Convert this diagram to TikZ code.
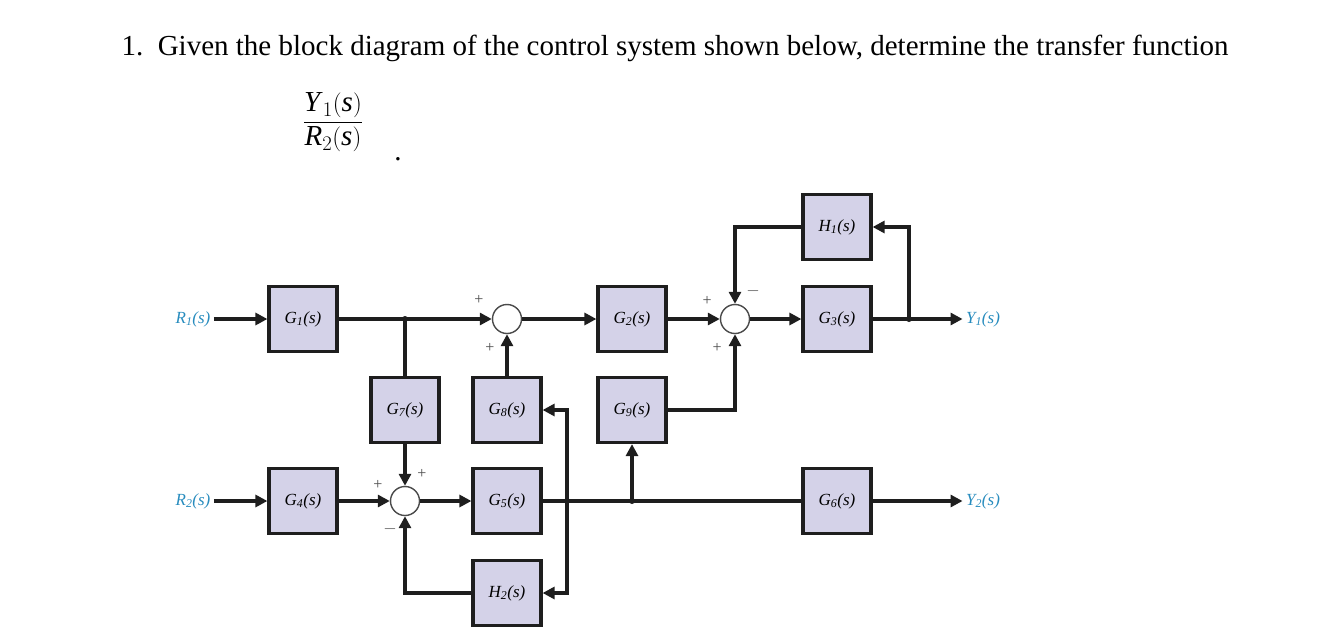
\documentclass[tikz,border=0pt]{standalone}
\usepackage{amsmath}
\usepackage{fontspec}
\setmainfont{Liberation Serif}
\usetikzlibrary{arrows.meta}
\definecolor{boxfill}{RGB}{212,210,232}
\definecolor{sig}{RGB}{40,140,190}
\definecolor{ln}{RGB}{30,30,30}
\newcommand{\iv}[1]{\textit{#1}}
\begin{document}
\begin{tikzpicture}[x=1pt,y=-1pt,
  blk/.style={draw=ln,line width=3.2pt,fill=boxfill,minimum width=68pt,minimum height=65pt,inner sep=0pt,font=\fontsize{17}{17}\selectfont\itshape},
  sum/.style={circle,draw=ln!80,line width=1.4pt,fill=white,minimum size=29pt,inner sep=0pt},
  w/.style={line width=3.4pt,draw=ln},
  a/.style={w,-{Triangle[length=12pt,width=12pt]}},
  sg/.style={font=\fontsize{17}{17}\selectfont\itshape,text=sig},
  pm/.style={font=\fontsize{16}{16}\selectfont,text=ln!80},
  dot/.style={circle,fill=ln,inner sep=0pt,minimum size=6pt}]
\useasboundingbox (0,0) rectangle (1329,640);
\node[anchor=base west,font=\fontsize{29}{29}\selectfont] (title) at (118,55) {1.\ \ Given the block diagram of the control system shown below, determine the transfer function};
\node[font=\fontsize{29}{29}\selectfont] (frac) at (333,122) {$\dfrac{\text{\iv{Y}}_1(\text{\iv{s}})}{\text{\iv{R}}_2(\text{\iv{s}})}$};
\node[font=\fontsize{29}{29}\selectfont,anchor=base] (per) at (398,160) {.};
% blocks
\node[blk] (G1) at (303,319) {G\textsubscript{1}(s)};
\node[blk] (G4) at (303,501) {G\textsubscript{4}(s)};
\node[blk] (G7) at (405,410) {G\textsubscript{7}(s)};
\node[blk] (G8) at (507,410) {G\textsubscript{8}(s)};
\node[blk] (G5) at (507,501) {G\textsubscript{5}(s)};
\node[blk] (H2) at (507,593) {H\textsubscript{2}(s)};
\node[blk] (G2) at (632,319) {G\textsubscript{2}(s)};
\node[blk] (G9) at (632,410) {G\textsubscript{9}(s)};
\node[blk] (H1) at (837,227) {H\textsubscript{1}(s)};
\node[blk] (G3) at (837,319) {G\textsubscript{3}(s)};
\node[blk] (G6) at (837,501) {G\textsubscript{6}(s)};
\node[sum] (S1) at (507,319) {};
\node[sum] (S2) at (405,501) {};
\node[sum] (S3) at (735,319) {};
\node[sg] (R1) at (193,319) {R\textsubscript{1}(s)};
\node[sg] (R2) at (193,501) {R\textsubscript{2}(s)};
\node[sg] (Y1) at (983,319) {Y\textsubscript{1}(s)};
\node[sg] (Y2) at (983,501) {Y\textsubscript{2}(s)};
\coordinate (b1) at (405,319);
\coordinate (b2) at (567,501);
\coordinate (b3) at (632,501);
\coordinate (b4) at (909,319);
\node[dot] at (b1) {};\node[dot] at (b2) {};\node[dot] at (b3) {};\node[dot] at (b4) {};
% connectors
\draw[a] (R1.east) -- (G1.west);
\draw[a] (R2.east) -- (G4.west);
\draw[a] (G1.east) -- (S1.west);
\draw[w] (b1) -- (G7.north);
\draw[a] (G7.south) -- (S2.north);
\draw[a] (G4.east) -- (S2.west);
\draw[a] (S2.east) -- (G5.west);
\draw[a] (G8.north) -- (S1.south);
\draw[a] (S1.east) -- (G2.west);
\draw[a] (G2.east) -- (S3.west);
\draw[a] (S3.east) -- (G3.west);
\draw[a] (G3.east) -- (Y1.west);
\draw[a] (b4) |- (H1.east);
\draw[a] (H1.west) -| (S3.north);
\draw[a] (G9.east) -| (S3.south);
\draw[w] (G5.east) -- (G6.west);
\draw[a] (G6.east) -- (Y2.west);
\draw[a] (b3) -- (G9.south);
\draw[a] (b2) |- (G8.east);
\draw[a] (b2) |- (H2.east);
\draw[a] (H2.west) -| (S2.south);
% signs
\node[pm] at (479,300) {+};
\node[pm] at (490,348) {+};
\node[pm] at (378,485) {+};
\node[pm] at (422,474) {+};
\node[pm] at (390,529) {$-$};
\node[pm] at (707,301) {+};
\node[pm] at (753,291) {$-$};
\node[pm] at (717,348) {+};
\end{tikzpicture}
\end{document}
